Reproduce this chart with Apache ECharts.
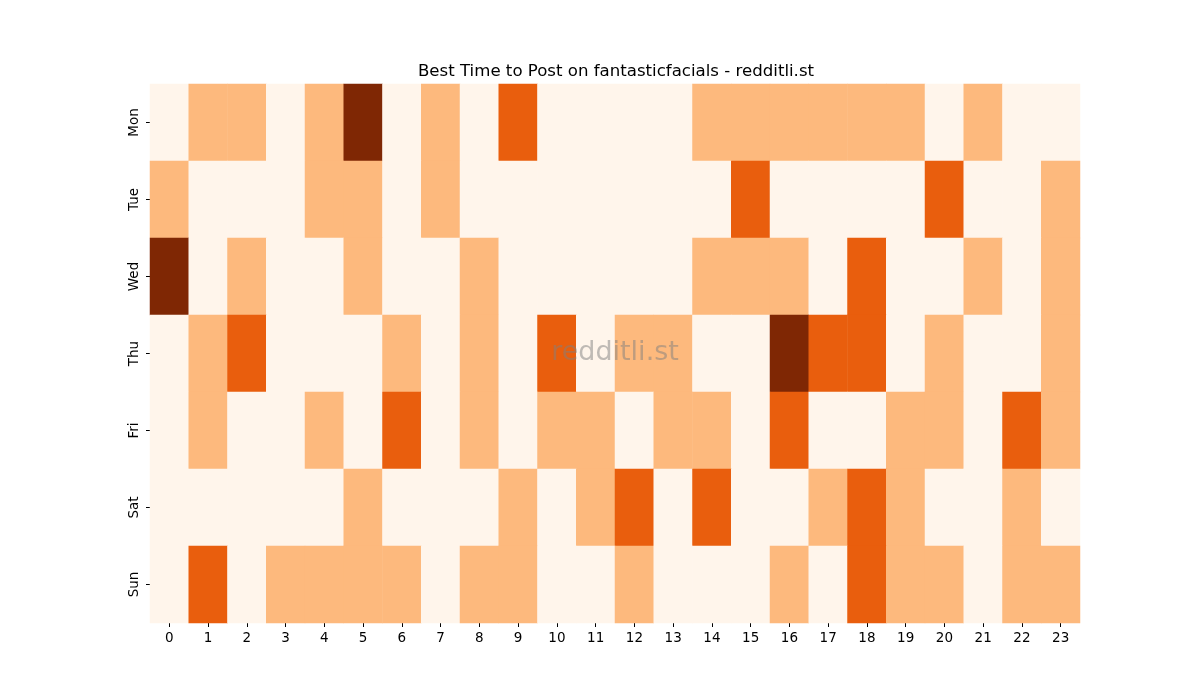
<!DOCTYPE html>
<html>
<head>
  <meta charset="UTF-8">
  <style>
    body { margin: 0; background: #fff; }
  </style>
  <script src="https://cdn.jsdelivr.net/npm/echarts@6/dist/echarts.min.js"></script>
</head>
<body>
  <div id="chart" style="width: 1200px; height: 700px;"></div>
  <script>
    const hours = ['0','1','2','3','4','5','6','7','8','9','10','11','12','13','14','15','16','17','18','19','20','21','22','23']
    const days = ['Mon', 'Tue', 'Wed', 'Thu', 'Fri', 'Sat', 'Sun']

    // activity level per hour, one row per day
    const mon = [0,1,1,0,1,3,0,1,0,2,0,0,0,0,1,1,1,1,1,1,0,1,0,0]
    const tue = [1,0,0,0,1,1,0,1,0,0,0,0,0,0,0,2,0,0,0,0,2,0,0,1]
    const wed = [3,0,1,0,0,1,0,0,1,0,0,0,0,0,1,1,1,0,2,0,0,1,0,1]
    const thu = [0,1,2,0,0,0,1,0,1,0,2,0,1,1,0,0,3,2,2,0,1,0,0,1]
    const fri = [0,1,0,0,1,0,2,0,1,0,1,1,0,1,1,0,2,0,0,1,1,0,2,1]
    const sat = [0,0,0,0,0,1,0,0,0,1,0,1,2,0,2,0,0,1,2,1,0,0,1,0]
    const sun = [0,2,0,1,1,1,1,0,1,1,0,0,1,0,0,0,1,0,2,1,1,0,1,1]

    const rows = [mon, tue, wed, thu, fri, sat, sun]
    const cells = []
    rows.forEach((row, d) => {
      row.forEach((v, h) => cells.push([h, d, v]))
    })

    const font = 'DejaVu Sans'
    const myChart = echarts.init(document.getElementById('chart'))

    const options = {
      backgroundColor: '#fff',
      animation: false,
      title: {
        text: 'Best Time to Post on fantasticfacials - redditli.st',
        left: 611,
        textAlign: 'center',
        top: 58,
        textStyle: { fontFamily: font, fontSize: 16.6, fontWeight: 'normal', color: '#000' }
      },
      graphic: [{
        type: 'text',
        x: 615,
        y: 353,
        style: {
          text: 'redditli.st',
          font: '27px "DejaVu Sans"',
          fill: 'rgba(128,128,128,0.5)',
          textAlign: 'center',
          textVerticalAlign: 'middle'
        },
        z: 100
      }],
      grid: { left: 150, right: 120, top: 84, bottom: 77 },
      xAxis: {
        type: 'category',
        data: hours,
        axisLine: { show: false },
        axisTick: { show: true, alignWithLabel: true, length: 4, lineStyle: { color: '#000' } },
        axisLabel: { fontFamily: font, fontSize: 13.5, color: '#000', margin: 8, interval: 0 },
        splitLine: { show: false }
      },
      yAxis: {
        type: 'category',
        data: days,
        inverse: true,
        axisLine: { show: false },
        axisTick: { show: true, alignWithLabel: true, length: 4, lineStyle: { color: '#000' } },
        axisLabel: { fontFamily: font, fontSize: 13.5, color: '#000', rotate: 90, margin: 9 },
        splitLine: { show: false }
      },
      visualMap: {
        show: false,
        type: 'piecewise',
        dimension: 2,
        pieces: [
          { value: 0, color: '#fff5eb' },
          { value: 1, color: '#fdb97d' },
          { value: 2, color: '#e95e0d' },
          { value: 3, color: '#7f2704' }
        ]
      },
      series: [{
        type: 'heatmap',
        data: cells,
        itemStyle: { borderWidth: 0 },
        emphasis: { disabled: true }
      }]
    }

    myChart.setOption(options)
  </script>
</body>
</html>
